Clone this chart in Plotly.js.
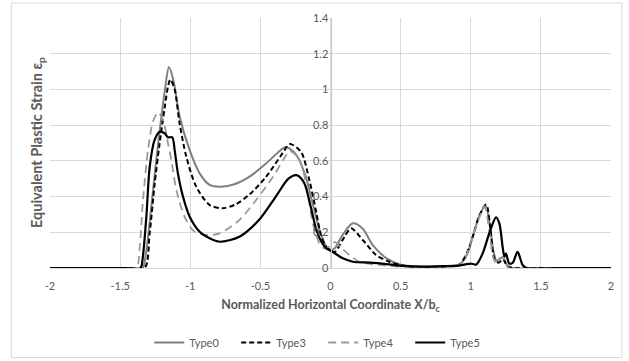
<!DOCTYPE html>
<html>
<head>
<meta charset="utf-8">
<script src="https://cdn.plot.ly/plotly-3.0.1.min.js"></script>
<style>
  html, body { margin: 0; padding: 0; background: #ffffff; }
  #chart { width: 629px; height: 361px; }
</style>
</head>
<body>
<div id="chart"></div>
<script>
// ---- data ----
const seriesNames = ["Type0", "Type3", "Type4", "Type5"];

const type0X = [-2, -1.7, -1.45, -1.34, -1.32, -1.29, -1.25, -1.21, -1.18, -1.152, -1.12, -1.076, -1.004, -0.933, -0.862, -0.78, -0.68, -0.58, -0.46, -0.37, -0.32, -0.25, -0.18, -0.13, -0.08, -0.03, 0.0, 0.03, 0.09, 0.16, 0.23, 0.3, 0.4, 0.5, 0.62, 0.75, 0.85, 0.92, 0.97, 1.02, 1.06, 1.105, 1.135, 1.16, 1.185, 1.21, 1.23, 1.26, 1.3, 1.5, 1.75, 2];
const type0Y = [0, 0, 0, 0, 0.06, 0.25, 0.55, 0.82, 1.0, 1.125, 1.05, 0.85, 0.66, 0.53, 0.465, 0.455, 0.47, 0.51, 0.585, 0.65, 0.677, 0.64, 0.52, 0.37, 0.22, 0.12, 0.1, 0.11, 0.19, 0.25, 0.22, 0.13, 0.054, 0.018, 0.008, 0.008, 0.012, 0.02, 0.07, 0.19, 0.29, 0.35, 0.25, 0.1, 0.04, 0.055, 0.06, 0.015, 0, 0, 0, 0];

const type3X = [-2, -1.7, -1.45, -1.325, -1.29, -1.254, -1.218, -1.182, -1.159, -1.142, -1.111, -1.076, -1.028, -0.957, -0.862, -0.77, -0.68, -0.58, -0.46, -0.34, -0.29, -0.21, -0.15, -0.1, -0.066, -0.03, 0.0, 0.03, 0.1, 0.147, 0.23, 0.325, 0.42, 0.54, 0.7, 0.85, 0.92, 0.97, 1.02, 1.06, 1.11, 1.14, 1.17, 1.2, 1.23, 1.26, 1.3, 1.5, 1.75, 2];
const type3Y = [0, 0, 0, 0, 0.19, 0.47, 0.7, 0.9, 1.015, 1.056, 1.0, 0.81, 0.623, 0.455, 0.353, 0.335, 0.355, 0.41, 0.51, 0.645, 0.694, 0.65, 0.49, 0.306, 0.175, 0.12, 0.1, 0.09, 0.175, 0.222, 0.157, 0.073, 0.035, 0.01, 0.006, 0.01, 0.02, 0.08, 0.19, 0.29, 0.355, 0.22, 0.05, 0.03, 0.05, 0.01, 0, 0, 0, 0];

const type4X = [-2, -1.7, -1.5, -1.385, -1.36, -1.337, -1.301, -1.266, -1.23, -1.195, -1.159, -1.135, -1.099, -1.04, -0.969, -0.874, -0.79, -0.65, -0.53, -0.41, -0.33, -0.29, -0.22, -0.17, -0.126, -0.08, -0.045, -0.01, 0.03, 0.08, 0.135, 0.206, 0.35, 0.5, 0.7, 0.85, 0.92, 0.97, 1.02, 1.06, 1.1, 1.13, 1.16, 1.18, 1.21, 1.23, 1.27, 1.5, 1.75, 2];
const type4Y = [0, 0, 0, 0, 0.12, 0.38, 0.66, 0.82, 0.87, 0.83, 0.7, 0.605, 0.437, 0.287, 0.203, 0.185, 0.194, 0.269, 0.381, 0.511, 0.614, 0.655, 0.605, 0.455, 0.25, 0.14, 0.11, 0.12, 0.145, 0.11, 0.073, 0.035, 0.017, 0.008, 0.006, 0.01, 0.02, 0.075, 0.19, 0.28, 0.345, 0.22, 0.06, 0.03, 0.05, 0.06, 0, 0, 0, 0];

const type5X = [-2, -1.7, -1.47, -1.355, -1.34, -1.313, -1.289, -1.254, -1.218, -1.182, -1.159, -1.128, -1.111, -1.088, -1.052, -1.004, -0.933, -0.862, -0.79, -0.65, -0.51, -0.39, -0.3, -0.243, -0.19, -0.14, -0.1, -0.06, -0.03, 0.016, 0.088, 0.159, 0.28, 0.4, 0.52, 0.65, 0.8, 0.9, 0.96, 1.0, 1.04, 1.085, 1.132, 1.18, 1.204, 1.227, 1.24, 1.251, 1.275, 1.3, 1.334, 1.37, 1.4, 1.6, 1.8, 2];
const type5Y = [0, 0, 0, 0, 0.05, 0.287, 0.567, 0.717, 0.763, 0.754, 0.732, 0.732, 0.66, 0.53, 0.4, 0.287, 0.203, 0.166, 0.147, 0.175, 0.269, 0.4, 0.5, 0.52, 0.48, 0.34, 0.21, 0.14, 0.11, 0.09, 0.054, 0.035, 0.03, 0.022, 0.012, 0.008, 0.01, 0.012, 0.02, 0.025, 0.02, 0.082, 0.194, 0.284, 0.25, 0.12, 0.063, 0.082, 0.025, 0.03, 0.091, 0.017, 0, 0, 0, 0];

const xTickVals = [-2, -1.5, -1, -0.5, 0, 0.5, 1, 1.5, 2];
const xTickText = ["-2", "-1.5", "-1", "-0.5", "0", "0.5", "1", "1.5", "2"];
const yTickVals = [0, 0.2, 0.4, 0.6, 0.8, 1, 1.2, 1.4];
const yTickText = ["0", "0.2", "0.4", "0.6", "0.8", "1", "1.2", "1.4"];

// ---- styles ----
const FONT = "Lato, 'Open Sans', sans-serif";
const TXT = "#595959";
const GRID = "#d9d9d9";

const traces = [
  { x: type0X, y: type0Y, name: seriesNames[0], mode: "lines",
    line: { color: "#7f7f7f", width: 2, shape: "spline", smoothing: 0.8 } },
  { x: type3X, y: type3Y, name: seriesNames[1], mode: "lines",
    line: { color: "#000000", width: 2, dash: "5px,3px", shape: "spline", smoothing: 0.8 } },
  { x: type4X, y: type4Y, name: seriesNames[2], mode: "lines",
    line: { color: "#9a9a9a", width: 1.8, dash: "8px,5px", shape: "spline", smoothing: 0.8 } },
  { x: type5X, y: type5Y, name: seriesNames[3], mode: "lines",
    line: { color: "#000000", width: 2.2, shape: "spline", smoothing: 0.8 } }
];

const layout = {
  width: 629, height: 361,
  margin: { l: 50, r: 18, t: 18, b: 93, autoexpand: false },
  paper_bgcolor: "#ffffff", plot_bgcolor: "#ffffff",
  font: { family: FONT, color: TXT, size: 11 },
  showlegend: true,
  legend: {
    orientation: "h", x: 0.487, xanchor: "center", y: -0.24, yanchor: "top",
    font: { family: FONT, color: TXT, size: 11 },
    itemwidth: 30, entrywidth: 42, tracegroupgap: 0
  },
  xaxis: {
    range: [-2, 2], tickvals: xTickVals, ticktext: xTickText,
    showgrid: true, gridcolor: GRID, gridwidth: 1,
    zeroline: false, showline: true, linecolor: GRID, ticks: "",
    ticklabelstandoff: 8, automargin: false,
    tickfont: { family: FONT, color: TXT, size: 11 },
    title: { text: "<b>Normalized Horizontal Coordinate X/b<sub>c</sub></b>",
             font: { family: FONT, color: TXT, size: 12.5 }, standoff: 9 },
    fixedrange: true
  },
  yaxis: {
    range: [0, 1.4], tickvals: yTickVals, ticktext: yTickText,
    anchor: "free", position: 0.5, side: "left", automargin: false,
    showgrid: true, gridcolor: GRID, gridwidth: 1,
    zeroline: false, showline: true, linecolor: "#c8c8c8", ticks: "",
    tickfont: { family: FONT, color: TXT, size: 11 },
    fixedrange: true
  },
  annotations: [{
    text: "<b>Equivalent Plastic Strain ε<sub>p</sub></b>",
    xref: "paper", yref: "paper", x: -0.023, y: 0.5,
    xanchor: "center", yanchor: "middle", textangle: -90, showarrow: false,
    font: { family: FONT, color: TXT, size: 14.5 }
  }],
  shapes: [{
    type: "rect", xref: "paper", yref: "paper",
    x0: -0.069, x1: 1.0196, y0: -0.358, y1: 1.06,
    line: { color: "#d9d9d9", width: 1 }, fillcolor: "rgba(0,0,0,0)", layer: "below"
  }]
};

Plotly.newPlot("chart", traces, layout, { staticPlot: true, displayModeBar: false });
</script>
</body>
</html>
